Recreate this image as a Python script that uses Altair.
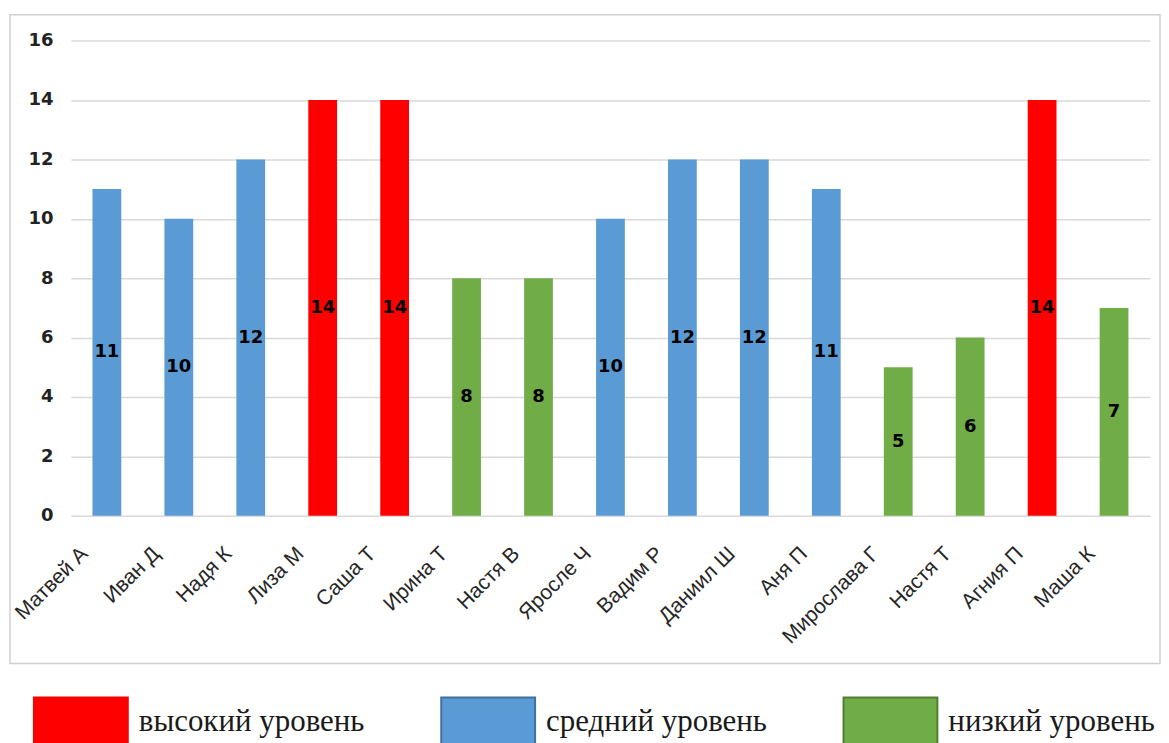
import altair as alt
import pandas as pd

names = ["Матвей А", "Иван Д", "Надя К", "Лиза М", "Саша Т", "Ирина Т", "Настя В",
         "Яросле Ч", "Вадим Р", "Даниил Ш", "Аня П", "Мирослава Г", "Настя Т",
         "Агния П", "Маша К"]
scores = [11, 10, 12, 14, 14, 8, 8, 10, 12, 12, 11, 5, 6, 14, 7]
levels_by_name = ["средний уровень", "средний уровень", "средний уровень",
                  "высокий уровень", "высокий уровень", "низкий уровень",
                  "низкий уровень", "средний уровень", "средний уровень",
                  "средний уровень", "средний уровень", "низкий уровень",
                  "низкий уровень", "высокий уровень", "низкий уровень"]
level_names = ["высокий уровень", "средний уровень", "низкий уровень"]
level_colors = ["#FF0000", "#5B9BD5", "#70AD47"]
level_strokes = ["#FF0000", "#41719C", "#507E32"]
y_ticks = [0, 2, 4, 6, 8, 10, 12, 14, 16]

df = pd.DataFrame({"name": names, "score": scores, "level": levels_by_name})

W, H = 1081, 476

legend = alt.Legend(
    title=None, orient="none", legendX=-38, legendY=635, direction="horizontal",
    symbolType="M-1,-0.53H1V0.53H-1Z", symbolSize=8836, symbolOpacity=1,
    symbolStrokeWidth=2, labelFont="Liberation Serif", labelFontSize=31,
    labelColor="#1a1a1a", labelOffset=10, columnPadding=72, labelLimit=0,
    padding=0,
)

x_enc = alt.X("name:N", sort=names, title=None,
              scale=alt.Scale(paddingInner=0.6, paddingOuter=0.3),
              axis=alt.Axis(labelAngle=-45, labelFont="Liberation Sans",
                            labelFontSize=21, labelColor="#262626", ticks=False,
                            domain=False, labelPadding=27, labelOffset=-30))

bars = alt.Chart(df).mark_bar(strokeWidth=0).encode(
    x=x_enc,
    y=alt.Y("score:Q", title=None,
            scale=alt.Scale(domain=[0, 16], nice=False),
            axis=alt.Axis(values=y_ticks, grid=True, gridColor="#d9d9d9",
                          gridWidth=1.5, domain=False, ticks=False,
                          labelPadding=18, labelFont="DejaVu Sans",
                          labelFontSize=18, labelFontWeight="bold",
                          labelColor="#222222")),
    color=alt.Color("level:N", scale=alt.Scale(domain=level_names, range=level_colors),
                    legend=legend),
    stroke=alt.Stroke("level:N", scale=alt.Scale(domain=level_names, range=level_strokes),
                      legend=legend),
)

labels = alt.Chart(df).transform_calculate(mid="datum.score / 2").mark_text(
    font="DejaVu Sans", fontSize=18, fontWeight="bold", color="black",
    baseline="middle", align="center"
).encode(
    x=alt.X("name:N", sort=names),
    y=alt.Y("mid:Q"),
    text=alt.Text("score:Q"),
)

frame = alt.Chart(alt.Data(values=[{"f": 1}])).mark_rect(
    fill="transparent", stroke="#d0d0d0", strokeWidth=1.5
).encode(
    x=alt.value(-61), x2=alt.value(1091), y=alt.value(-26), y2=alt.value(624)
)

chart = alt.layer(frame, bars, labels).properties(
    width=W, height=H,
    padding={"left": 1, "top": 5, "right": 0, "bottom": 5},
).configure_view(stroke=None)

chart.save("out.html", embed_options={"renderer": "svg", "actions": False})
